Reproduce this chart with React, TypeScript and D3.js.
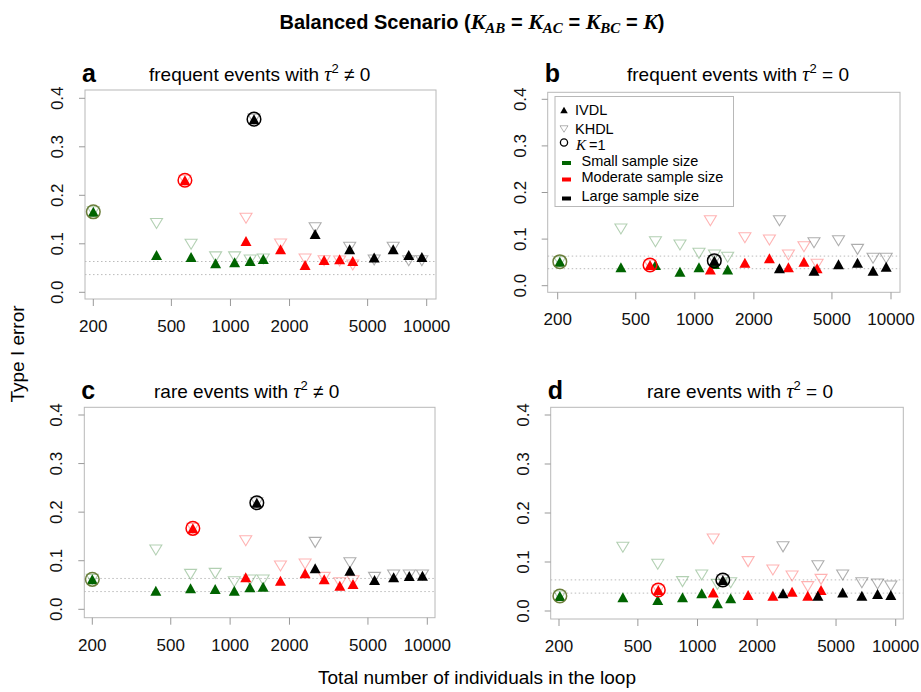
import * as d3 from "d3";
import React from "react";

const width = 921;
const height = 692;

// total number of individuals in the loop, K = 2..7
const smallN = [420, 630, 840, 1050, 1260, 1470];
const moderateN = [1200, 1800, 2400, 3000, 3600, 4200];
const largeN = [2700, 4050, 5400, 6750, 8100, 9450];

const xTicks = [200, 500, 1000, 2000, 5000, 10000];
const yTicks = [0, 0.1, 0.2, 0.3, 0.4];
const refLines = [0.0365, 0.0635];

// panel a: frequent events, tau^2 != 0
const ivdlSmallA = [0.077, 0.073, 0.06, 0.062, 0.0645, 0.0687];
const khdlSmallA = [0.142, 0.099, 0.073, 0.073, 0.0666, 0.0687];
const ivdlModA = [0.1058, 0.0887, 0.0563, 0.0666, 0.068, 0.0645];
const khdlModA = [0.1526, 0.0996, 0.0687, 0.065, 0.0645, 0.0563];
const ivdlLargeA = [0.12, 0.0887, 0.072, 0.0887, 0.077, 0.073];
const khdlLargeA = [0.133, 0.0928, 0.0666, 0.0928, 0.065, 0.065];
const k1NA = [200, 586, 1318];
const k1A = [0.166, 0.231, 0.357];

// panel b: frequent events, tau^2 = 0
const ivdlSmallB = [0.0395, 0.0444, 0.03, 0.0395, 0.0466, 0.035];
const khdlSmallB = [0.1217, 0.0944, 0.0873, 0.0695, 0.066, 0.061];
const ivdlModB = [0.035, 0.0494, 0.0588, 0.0395, 0.0515, 0.0373];
const khdlModB = [0.1395, 0.103, 0.098, 0.066, 0.0837, 0.046];
const ivdlLargeB = [0.0373, 0.032, 0.046, 0.0494, 0.032, 0.0408];
const khdlLargeB = [0.1395, 0.0923, 0.0966, 0.078, 0.0588, 0.0588];
const k1NB = [205, 591, 1257];
const k1B = [0.0515, 0.0444, 0.0537];

// panel c: rare events, tau^2 != 0
const ivdlSmallC = [0.0383, 0.0432, 0.0418, 0.0383, 0.0453, 0.0466];
const khdlSmallC = [0.122, 0.072, 0.074, 0.0568, 0.0603, 0.0603];
const ivdlModC = [0.0658, 0.0589, 0.074, 0.0617, 0.0486, 0.052];
const khdlModC = [0.1412, 0.0891, 0.0932, 0.0658, 0.0548, 0.0589];
const ivdlLargeC = [0.0843, 0.0795, 0.0603, 0.0658, 0.0685, 0.069];
const khdlLargeC = [0.1378, 0.0959, 0.0658, 0.0706, 0.0706, 0.0706];
const k1NC = [200, 647, 1366];
const k1C = [0.0617, 0.1667, 0.2194];

// panel d: rare events, tau^2 = 0
const ivdlSmallD = [0.028, 0.0224, 0.028, 0.036, 0.0156, 0.026];
const khdlSmallD = [0.13, 0.0953, 0.06, 0.0735, 0.0544, 0.0578];
const ivdlModD = [0.038, 0.0327, 0.0313, 0.0395, 0.0313, 0.0429];
const khdlModD = [0.147, 0.1007, 0.0837, 0.0714, 0.0497, 0.0646];
const ivdlLargeD = [0.036, 0.0313, 0.038, 0.0313, 0.0347, 0.0327];
const khdlLargeD = [0.131, 0.0925, 0.0735, 0.0578, 0.055, 0.051];
const k1ND = [202, 634, 1342];
const k1D = [0.0306, 0.0429, 0.0633];

const solid = ["#006400", "#ff0000", "#000000"];
const faded = ["rgba(0,100,0,0.3)", "rgba(255,0,0,0.3)", "rgba(0,0,0,0.32)"];
const ring = ["#6b7d3a", "#ff0000", "#000000"];
const sansFont = "'Liberation Sans', Arial, Helvetica, sans-serif";
const mathFont = "'Liberation Serif', 'DejaVu Serif', serif";

const panels = [
  {
    letter: "a", event: "frequent events with ", op: "\u2260",
    box: [85, 90, 436, 299], xr: [93.3, 426.7], yr: [292.3, 98.3], titleX: 149, titleY: 81,
    ivdl: [ivdlSmallA, ivdlModA, ivdlLargeA], khdl: [khdlSmallA, khdlModA, khdlLargeA], k1N: k1NA, k1: k1A,
  },
  {
    letter: "b", event: "frequent events with ", op: "=",
    box: [547.7, 92.3, 900, 292.3], xr: [557.7, 891], yr: [285.7, 99.3], titleX: 627, titleY: 81,
    ivdl: [ivdlSmallB, ivdlModB, ivdlLargeB], khdl: [khdlSmallB, khdlModB, khdlLargeB], k1N: k1NB, k1: k1B,
    legend: true,
  },
  {
    letter: "c", event: "rare events with ", op: "\u2260",
    box: [84.3, 407.3, 435, 617.7], xr: [92.3, 427.3], yr: [609.3, 415], titleX: 154, titleY: 398,
    ivdl: [ivdlSmallC, ivdlModC, ivdlLargeC], khdl: [khdlSmallC, khdlModC, khdlLargeC], k1N: k1NC, k1: k1C,
  },
  {
    letter: "d", event: "rare events with ", op: "=",
    box: [550.7, 407.3, 903.3, 619], xr: [559, 895.7], yr: [611, 415], titleX: 647, titleY: 398,
    ivdl: [ivdlSmallD, ivdlModD, ivdlLargeD], khdl: [khdlSmallD, khdlModD, khdlLargeD], k1N: k1ND, k1: k1D,
  },
];

const groupN = [smallN, moderateN, largeN];

const upTri = (cx, cy, w, h) => `M${cx - w / 2},${cy + h / 2}L${cx + w / 2},${cy + h / 2}L${cx},${cy - h / 2}Z`;
const downTri = (cx, cy, w, h) => `M${cx - w / 2},${cy - h / 2}L${cx + w / 2},${cy - h / 2}L${cx},${cy + h / 2}Z`;

const Panel = ({ p }) => {
  const [x0, y0, x1, y1] = p.box;
  const x = d3.scaleLog().domain([200, 10000]).range(p.xr);
  const y = d3.scaleLinear().domain([0, 0.4]).range(p.yr);
  return (
    <g>
      <text x={x0 - 3} y={p.titleY + 1} fontFamily={sansFont} fontWeight="bold" fontSize={25}>{p.letter}</text>
      <text x={p.titleX} y={p.titleY} fontFamily={sansFont} fontSize={19}>
        {p.event}
        <tspan fontFamily={mathFont} fontStyle="italic" fontSize={20}>τ</tspan>
        <tspan fontSize={13} dy={-8}>2</tspan>
        <tspan dy={8}>{` ${p.op}  0`}</tspan>
      </text>
      <rect x={x0} y={y0} width={x1 - x0} height={y1 - y0} fill="none" stroke="#b8b8b8" strokeWidth={1} />
      {refLines.map((v) => (
        <line key={v} x1={x0} x2={x1} y1={y(v)} y2={y(v)} stroke="#bbbbbb" strokeDasharray="1.5,2.5" strokeWidth={1} />
      ))}
      {yTicks.map((t) => (
        <g key={t}>
          <line x1={x0 - 6} x2={x0} y1={y(t)} y2={y(t)} stroke="#999" />
          <text transform={`translate(${x0 - 22},${y(t)}) rotate(-90)`} textAnchor="middle" fontFamily={sansFont} fontSize={17} fill="#111">
            {d3.format(".1f")(t)}
          </text>
        </g>
      ))}
      {xTicks.map((t) => (
        <g key={t}>
          <line x1={x(t)} x2={x(t)} y1={y1} y2={y1 + 7} stroke="#999" />
          <text x={x(t)} y={y1 + 33} textAnchor="middle" fontFamily={sansFont} fontSize={17} fill="#111">{t}</text>
        </g>
      ))}
      {groupN.map((ns, g) =>
        ns.map((n, i) => (
          <path key={`k${g}-${i}`} d={downTri(x(n), y(p.khdl[g][i]), 12, 10)} fill="none" stroke={faded[g]} strokeWidth={1.1} />
        ))
      )}
      {p.k1N.map((n, g) => (
        <path key={`kk${g}`} d={downTri(x(n), y(p.k1[g]), 12, 10)} fill="none" stroke={faded[g]} strokeWidth={1.1} />
      ))}
      {groupN.map((ns, g) =>
        ns.map((n, i) => (
          <path key={`i${g}-${i}`} d={upTri(x(n), y(p.ivdl[g][i]), 11, 10)} fill={solid[g]} />
        ))
      )}
      {p.k1N.map((n, g) => (
        <g key={`c${g}`}>
          <path d={upTri(x(n), y(p.k1[g]), 11, 10)} fill={solid[g]} />
          <circle cx={x(n)} cy={y(p.k1[g])} r={6.8} fill="none" stroke={ring[g]} strokeWidth={1.5} />
        </g>
      ))}
      {p.legend && <Legend />}
    </g>
  );
};

const Legend = () => {
  const items = ["Small sample size", "Moderate sample size", "Large sample size"];
  const rows = [161, 177.5, 196.5];
  return (
    <g fontFamily={sansFont} fontSize={14.5}>
      <rect x={555} y={96.5} width={178.5} height={110} fill="white" stroke="#b8b8b8" />
      <path d={upTri(564, 110, 7.5, 6.5)} fill="#000" />
      <text x={575} y={115}>IVDL</text>
      <path d={downTri(564, 129, 8, 6.5)} fill="none" stroke="rgba(0,0,0,0.3)" />
      <text x={575} y={134}>KHDL</text>
      <circle cx={564} cy={142.5} r={3.6} fill="none" stroke="#000" strokeWidth={1.3} />
      <text x={576} y={150}>
        <tspan fontFamily={mathFont} fontStyle="italic" fontSize={15}>K</tspan>
        <tspan dx={3}>=1</tspan>
      </text>
      {items.map((s, i) => (
        <g key={s}>
          <rect x={562} y={rows[i]} width={9} height={4} fill={solid[i]} />
          <text x={581.5} y={rows[i] + 4.5}>{s}</text>
        </g>
      ))}
    </g>
  );
};

const App = () => (
  <svg width={width} height={height} style={{ position: "absolute", left: 0, top: 0, background: "white" }}>
    <text x={472} y={29} textAnchor="middle" fontFamily={sansFont} fontWeight="bold" fontSize={20}>
      Balanced Scenario (
      <tspan fontFamily={mathFont} fontStyle="italic" fontSize={22}>K</tspan>
      <tspan fontFamily={mathFont} fontStyle="italic" fontSize={15} dy={4}>AB</tspan>
      <tspan dy={-4}>{" = "}</tspan>
      <tspan fontFamily={mathFont} fontStyle="italic" fontSize={22}>K</tspan>
      <tspan fontFamily={mathFont} fontStyle="italic" fontSize={15} dy={4}>AC</tspan>
      <tspan dy={-4}>{" = "}</tspan>
      <tspan fontFamily={mathFont} fontStyle="italic" fontSize={22}>K</tspan>
      <tspan fontFamily={mathFont} fontStyle="italic" fontSize={15} dy={4}>BC</tspan>
      <tspan dy={-4}>{" = "}</tspan>
      <tspan fontFamily={mathFont} fontStyle="italic" fontSize={22}>K</tspan>
      )
    </text>
    {panels.map((p) => (
      <Panel key={p.letter} p={p} />
    ))}
    <text transform="translate(24,354) rotate(-90)" textAnchor="middle" fontFamily={sansFont} fontSize={19}>Type I error</text>
    <text x={477} y={684} textAnchor="middle" fontFamily={sansFont} fontSize={19}>Total number of individuals in the loop</text>
  </svg>
);

export default App;
